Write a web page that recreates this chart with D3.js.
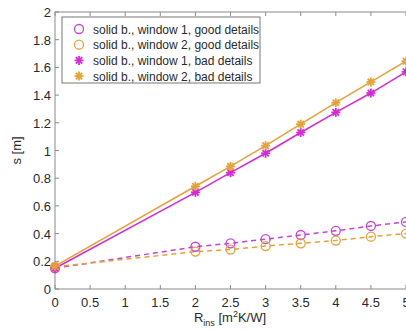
<!DOCTYPE html>
<html>
<head>
<meta charset="UTF-8">
<style>
  body { margin: 0; background: #fff; }
  svg { display: block; font-family: 'Liberation Sans', Arial, sans-serif; }
</style>
<script src="https://d3js.org/d3.v7.min.js"></script>
</head>
<body>
<svg id="chart" width="406" height="332"></svg>
<script>
// R_ins values
const rIns = [0, 2, 2.5, 3, 3.5, 4, 4.5, 5];
// s [m]
const w1Good = [0.15, 0.305, 0.33, 0.36, 0.39, 0.42, 0.455, 0.484];
const w2Good = [0.16, 0.27, 0.285, 0.31, 0.33, 0.35, 0.378, 0.40];
const w1Bad = [0.15, 0.698, 0.84, 0.98, 1.13, 1.275, 1.415, 1.568];
const w2Bad = [0.165, 0.742, 0.885, 1.035, 1.19, 1.345, 1.495, 1.645];

const xTicks = [0, 0.5, 1, 1.5, 2, 2.5, 3, 3.5, 4, 4.5, 5];
const yTicks = [0, 0.2, 0.4, 0.6, 0.8, 1, 1.2, 1.4, 1.6, 1.8, 2];
const labels = [
  "solid b., window 1, good details",
  "solid b., window 2, good details",
  "solid b., window 1, bad details",
  "solid b., window 2, bad details"
];

const magenta = "#d62ad6", purple = "#c444d8", orange = "#e6a236";
const txt = "#2a2a2a";

const svg = d3.select("#chart");
const mLeft = 55, mRight = 406, mTop = 12, mBottom = 289;
const x = d3.scaleLinear().domain([0, 5]).range([mLeft, mRight]);
const y = d3.scaleLinear().domain([0, 2]).range([mBottom, mTop]);

// axes box
const axColor = "#8a8a8a";
svg.append("rect").attr("x", mLeft).attr("y", mTop)
  .attr("width", mRight - mLeft + 2).attr("height", mBottom - mTop)
  .attr("fill", "none").attr("stroke", axColor).attr("stroke-width", 1);

// ticks inside
xTicks.forEach(t => {
  svg.append("line").attr("x1", x(t)).attr("x2", x(t)).attr("y1", mBottom).attr("y2", mBottom - 4).attr("stroke", axColor);
  svg.append("line").attr("x1", x(t)).attr("x2", x(t)).attr("y1", mTop).attr("y2", mTop + 4).attr("stroke", axColor);
});
yTicks.forEach(t => {
  svg.append("line").attr("x1", mLeft).attr("x2", mLeft + 4).attr("y1", y(t)).attr("y2", y(t)).attr("stroke", axColor);
});

svg.append("g").selectAll("text").data(xTicks).join("text")
  .attr("x", d => x(d)).attr("y", mBottom + 18)
  .attr("text-anchor", "middle").attr("font-size", 13).attr("fill", txt)
  .text(d => d);
svg.append("g").selectAll("text").data(yTicks).join("text")
  .attr("x", mLeft - 4).attr("y", d => y(d) + 5)
  .attr("text-anchor", "end").attr("font-size", 13).attr("fill", txt)
  .text(d => d);

// axis labels
const xl = svg.append("text").attr("x", 230).attr("y", 322)
  .attr("text-anchor", "middle").attr("font-size", 13).attr("fill", txt);
xl.append("tspan").text("R");
xl.append("tspan").attr("font-size", 9).attr("dy", 4).text("ins");
xl.append("tspan").attr("dy", -4).text(" [m");
xl.append("tspan").attr("font-size", 9).attr("dy", -5).text("2");
xl.append("tspan").attr("dy", 5).text("K/W]");

svg.append("text").attr("transform", `translate(21,${y(1)}) rotate(-90)`)
  .attr("text-anchor", "middle").attr("font-size", 13).attr("fill", txt)
  .text("s [m]");

const line = d3.line().x((d, i) => x(rIns[i])).y(d => y(d));

// series
const series = [
  { v: w1Good, c: purple, dash: "5,4", mk: "o" },
  { v: w2Good, c: orange, dash: "5,4", mk: "o" },
  { v: w1Bad, c: magenta, dash: null, mk: "*" },
  { v: w2Bad, c: orange, dash: null, mk: "*" }
];

const plot = svg.append("g");

function star(g, cx, cy, c) {
  const r = 4.5;
  for (let k = 0; k < 4; k++) {
    const a = k * Math.PI / 4;
    g.append("line")
      .attr("x1", cx - r * Math.cos(a)).attr("y1", cy - r * Math.sin(a))
      .attr("x2", cx + r * Math.cos(a)).attr("y2", cy + r * Math.sin(a))
      .attr("stroke", c).attr("stroke-width", 1.8);
  }
}

series.forEach(s => {
  plot.append("path").datum(s.v).attr("d", line)
    .attr("fill", "none").attr("stroke", s.c).attr("stroke-width", 1.5)
    .attr("stroke-dasharray", s.dash);
});
series.forEach(s => {
  s.v.forEach((d, i) => {
    if (s.mk === "o") {
      plot.append("circle").attr("cx", x(rIns[i])).attr("cy", y(d)).attr("r", 4.5)
        .attr("fill", "none").attr("stroke", s.c).attr("stroke-width", 1.3);
    } else {
      star(plot, x(rIns[i]), y(d), s.c);
    }
  });
});

// legend
const lg = svg.append("g");
lg.append("rect").attr("x", 62).attr("y", 17).attr("width", 198).attr("height", 66)
  .attr("fill", "#fff").attr("stroke", "#555").attr("stroke-width", 0.8);
labels.forEach((lab, i) => {
  const ly = 29 + i * 15.7;
  const s = series[i];
  if (s.mk === "o") {
    lg.append("circle").attr("cx", 79).attr("cy", ly).attr("r", 4.5)
      .attr("fill", "none").attr("stroke", s.c).attr("stroke-width", 1.3);
  } else {
    star(lg, 79, ly, s.c);
  }
  lg.append("text").attr("x", 93).attr("y", ly + 4.5)
    .attr("font-size", 12).attr("fill", txt).text(lab);
});
</script>
</body>
</html>
